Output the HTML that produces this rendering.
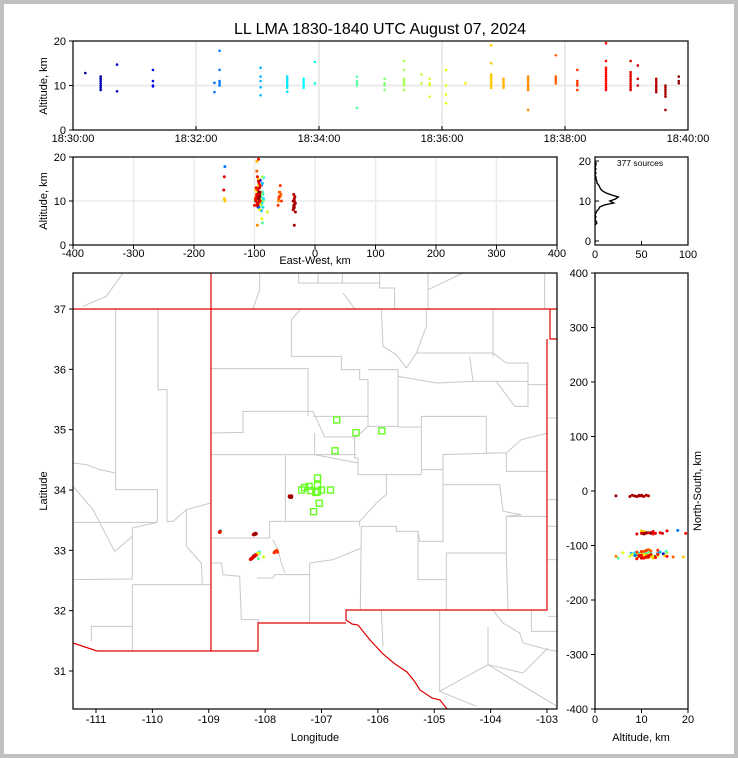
<!DOCTYPE html>
<html><head><meta charset="utf-8"><style>
html,body{margin:0;padding:0;background:#fff}
#wrap{width:738px;height:758px;position:relative;box-sizing:border-box;border:4px solid #c0c0c0;background:#fff}
svg{position:absolute;left:-4px;top:-4px}
text{font-family:"Liberation Sans",sans-serif;font-size:11px;fill:#000}
</style></head><body>
<div id="wrap">
<svg id="fig" width="738" height="758" viewBox="0 0 738 758">
<text x="380" y="34" text-anchor="middle" style="font-size:16px">LL LMA 1830-1840 UTC August 07, 2024</text>
<g id="mapbase">
<g transform="translate(73,273) scale(0.33333)" fill="none" stroke="#c8c8c8" stroke-width="3">
<polyline points="128,108 128,650 253,650 253,748 0,748"/>
<polyline points="255,108 255,350 282,350 282,745 300,745 340,710 413,690"/>
<polyline points="0,920 178,918 178,765 253,748"/>
<polyline points="178,935 413,935"/>
<polyline points="340,710 340,820 385,870 388,935"/>
<polyline points="0,570 40,575 80,590 128,600"/>
<polyline points="0,640 60,710 125,835 178,790"/>
<polyline points="178,935 178,1133"/>
<polyline points="55,1105 55,1060 178,1060"/>
<polyline points="30,100 100,70 150,0"/>
<polyline points="540,107 560,50 560,0"/>
<polyline points="677,0 677,30 920,30 920,45 965,45 965,107"/>
<polyline points="735,0 735,30"/><polyline points="808,0 808,30"/><polyline points="920,0 920,30"/>
<polyline points="810,60 845,107"/><polyline points="1065,0 1065,107"/><polyline points="1065,50 1170,0"/><polyline points="1415,0 1415,107"/>
<polyline points="415,287 705,287 705,430"/>
<polyline points="685,107 655,140 655,250 805,250 805,290 860,290 860,320 885,320 885,460"/>
<polyline points="925,107 930,220 970,245 1000,285 1030,240 1060,160 1060,107"/>
<polyline points="885,290 975,290 975,460 885,460"/>
<polyline points="975,310 1090,330 1200,325 1365,325 1365,270 1300,270 1260,240 1030,240"/>
<polyline points="1260,107 1260,250"/><polyline points="1190,250 1200,325"/>
<polyline points="1270,325 1325,400 1365,400 1365,325"/><polyline points="1365,335 1425,335"/>
<polyline points="415,480 510,478 510,415 720,415 755,492 850,492 885,460"/>
<polyline points="720,430 885,430"/>
<polyline points="725,480 725,545 855,570"/>
<polyline points="845,492 845,555 855,555 855,605 1045,605 1045,430 1240,430 1240,540 1300,540 1300,595 1425,595"/>
<polyline points="975,462 1045,462"/>
<polyline points="415,545 850,545"/>
<polyline points="637,545 637,745 590,745 590,795 415,795"/>
<polyline points="637,745 860,745 860,760"/>
<polyline points="860,745 915,685 940,665 940,605"/>
<polyline points="1045,590 1110,590 1110,545 1270,540"/>
<polyline points="1300,540 1345,500 1425,480"/>
<polyline points="1110,545 1110,805 1040,805 1035,775 970,775 970,760 865,760"/>
<polyline points="1110,635 1280,635 1290,715 1345,725 1300,730 1300,840 1120,840 1120,1012"/>
<polyline points="1300,730 1425,730"/><polyline points="1035,775 1035,920 1120,920"/>
<polyline points="1300,840 1305,1012"/><polyline points="865,760 862,1012"/>
<polyline points="865,825 780,860 710,870 710,1050"/>
<polyline points="415,870 445,870 450,905 500,910 505,1040 556,1040 556,1050"/>
<polyline points="552,915 600,915 605,905 710,905"/>
<polyline points="600,800 615,830 625,870 635,900"/>
<polyline points="1260,1012 1290,1050 1340,1080 1350,1110 1425,1130 1452,1135"/>
<polyline points="1245,1060 1245,1175 1100,1255 1100,1012"/>
<polyline points="1245,1175 1452,1300"/><polyline points="1425,1125 1350,1200 1245,1175"/>
<polyline points="1375,1012 1375,1075 1452,1075"/><polyline points="925,1012 930,1120"/>
<polyline points="1100,1255 1210,1300"/>
<polyline points="1425,435 1452,435"/><polyline points="1425,680 1452,680"/><polyline points="1425,760 1452,760"/><polyline points="1425,860 1452,860"/><polyline points="1425,1030 1452,1030"/>
</g>
<g fill="none" stroke="#e00000" stroke-width="1.2">
<polyline points="73,309 557,309"/>
<polyline points="211,273 211,651"/>
<polyline points="550,309 550,339 557,339"/>
<polyline points="547,339 547,610 346,610 346,620 352,624 358,625 370,640 383,654 395,664 407,672 415,682 420,690 432,698 440,700 447,709"/>
<polyline points="346,623 258,623 258,651 97,651 73,643"/>
</g>
</g>
<g id="layer"></g>
</svg>
</div>
<script>
const times=[12,27,27,27,27,27,27,27,43,43,78,78,78,78,138,138,143,143,143,143,143,183,183,183,183,183,209,209,209,209,209,209,209,225,225,225,225,225,236,236,277,277,277,277,277,304,304,304,304,323,323,323,323,323,323,323,340,340,348,348,348,348,364,364,364,364,383,408,408,408,408,408,408,408,408,408,420,420,420,420,420,444,444,444,444,444,444,444,444,471,471,471,471,471,492,492,492,492,492,520,520,520,520,520,520,520,520,520,520,520,520,520,544,544,544,544,544,544,544,544,544,544,551,551,551,569,569,569,569,569,569,569,578,578,578,578,578,578,578,591,591,591];
const alts=[12.8,12,11.5,11,10.5,10,9.5,9,14.7,8.7,13.5,11,10,9.8,10.6,8.5,17.8,13.5,11,10.5,10,14,12,11,9.6,7.8,12,11.5,11,10.5,10,9.5,8.6,11.5,11,10.5,10,9.5,15.3,10.5,12,11,10.5,10,5,11.5,10.5,10,9,15.5,13.5,11.5,11,10.5,10,9,12.5,10.5,11.5,10.5,10,7.5,13.5,10,8,6,10.5,19,15,12.5,12,11.5,11,10.5,10,9.5,11.5,11,10.5,10,9.5,12,11.5,11,10.5,10,9.5,9,4.5,16.8,12,11.5,11,10.5,13.5,11,10.5,10,9,19.5,15.5,14,13.5,13,12.5,12,11.5,11,10.5,10,9.5,9,15.5,13,12.5,12,11.5,11,10.5,10,9.5,9,14.5,11.5,10,11.5,11,10.5,10,9.5,9,8.5,10,9.5,9,8.5,8,7.5,4.5,12,11,10.5];
const lons=[-108.21,-108.19,-108.2,-108.22,-108.18,-108.21,-108.17,-108.2,-108.16,-108.2,-108.14,-108.19,-108.21,-108.17,-108.13,-108.18,-108.79,-108.15,-108.2,-108.12,-108.18,-108.12,-108.13,-108.16,-108.19,-108.14,-108.12,-108.14,-108.16,-108.1,-108.18,-108.13,-108.11,-108.11,-108.15,-108.13,-108.12,-108.17,-108.1,-108.13,-108.12,-108.16,-108.21,-108.24,-108.12,-108.13,-108.18,-108.1,-108.22,-108.12,-108.15,-108.19,-108.22,-108.17,-108.25,-108.14,-108.2,-108.16,-108.18,-108.23,-108.15,-108.03,-108.19,-108.21,-108.17,-108.13,-108.2,-108.22,-108.19,-108.24,-108.2,-108.18,-108.22,-108.8,-108.79,-108.21,-108.23,-108.19,-108.25,-108.21,-108.17,-107.82,-108.22,-107.8,-108.24,-107.83,-108.2,-108.26,-108.21,-108.22,-107.81,-107.79,-108.23,-107.83,-107.8,-107.82,-108.24,-107.78,-107.84,-108.19,-108.21,-108.18,-108.16,-108.23,-108.2,-108.17,-108.22,-108.19,-108.24,-108.18,-108.21,-108.26,-108.8,-108.17,-108.81,-108.16,-108.19,-108.22,-108.18,-108.24,-108.2,-108.21,-108.19,-108.17,-108.16,-107.56,-107.54,-107.55,-107.57,-107.53,-107.55,-107.56,-107.55,-107.54,-107.56,-107.55,-107.57,-107.53,-107.55,-108.18,-108.17,-108.19];
const lats=[32.89,32.9,32.91,32.88,32.92,32.89,32.93,32.9,32.93,32.9,32.94,32.9,32.89,32.92,32.95,32.91,33.32,32.93,32.9,32.95,32.91,32.96,32.94,32.93,32.9,32.94,32.95,32.93,32.92,32.96,32.91,32.94,32.95,32.95,32.93,32.94,32.96,32.92,32.97,32.94,32.95,32.92,32.88,32.86,32.86,32.94,32.91,32.96,32.88,32.95,32.93,32.9,32.88,32.92,32.86,32.94,32.9,32.92,32.91,32.87,32.93,32.89,32.9,32.89,32.92,32.95,32.9,32.88,32.9,32.86,32.89,32.9,32.88,33.3,33.31,32.89,32.87,32.91,32.86,32.89,32.92,32.98,32.88,32.99,32.86,32.97,32.9,32.85,32.89,32.88,32.98,33.0,32.87,32.97,32.99,32.98,32.87,32.97,32.96,33.27,32.89,33.28,32.92,32.87,33.26,32.92,32.88,33.27,32.86,32.91,32.89,32.85,33.31,33.27,33.3,33.28,32.9,32.88,33.27,32.86,32.9,33.26,33.27,33.28,33.27,33.89,33.9,33.88,33.89,33.9,33.88,33.89,33.9,33.89,33.88,33.89,33.9,33.88,33.89,33.27,33.28,33.26];
const histAlt=[4,4.5,5,5.5,6,6.5,7,7.5,8,8.5,9,9.5,10,10.5,11,11.5,12,12.5,13,13.5,14,14.5,15,15.5,16,16.5,17,17.5,18,18.5,19,19.5,20];
const histCount=[0,2,1,0,1,0,1,2,4,5,10,20,16,22,25,18,12,8,6,5,4,2,2,1,1,0,1,0,1,0,1,1,0];
const stnLon=[-106.73,-106.39,-105.93,-106.76,-107.07,-107.07,-107.07,-107.3,-107.19,-107.35,-106.84,-107.0,-107.1,-107.04,-107.14,-107.22];
const stnLat=[35.16,34.95,34.98,34.65,34.2,34.08,33.97,34.04,33.99,34.0,34.0,34.0,33.96,33.78,33.64,34.06];
const tLabels=["18:30:00","18:32:00","18:34:00","18:36:00","18:38:00","18:40:00"];
const altTicks=[0,10,20];
const ewTicks=[-400,-300,-200,-100,0,100,200,300,400];
const nsTicks=[-400,-300,-200,-100,0,100,200,300,400];
const lonTicks=[-111,-110,-109,-108,-107,-106,-105,-104,-103];
const latTicks=[31,32,33,34,35,36,37];
const histTicks=[0,50,100];
const altTicks2=[0,10,20];
const LAT0=33.97, LON0=-107.18;

const NS='http://www.w3.org/2000/svg';
const L=document.getElementById('layer');
function mk(tag,at,parent){const e=document.createElementNS(NS,tag);for(const k in at)e.setAttribute(k,at[k]);(parent||L).appendChild(e);return e;}
function txt(x,y,s,anchor,extra){const e=mk('text',Object.assign({x:x,y:y,'text-anchor':anchor||'middle'},extra||{}));e.textContent=s;return e;}
function jet(v){const c=u=>Math.max(0,Math.min(1,u));const r=c(1.5-Math.abs(4*v-3)),g=c(1.5-Math.abs(4*v-2)),b=c(1.5-Math.abs(4*v-1));return 'rgb('+Math.round(r*255)+','+Math.round(g*255)+','+Math.round(b*255)+')';}
const xT=t=>73+t*615/600, yA1=a=>130-a*4.45;
const xEW=e=>73+(e+400)*484/800, yA2=a=>245-a*4.4;
const xH=c=>595+c*0.93, yH=a=>241-a*4;
const xLon=l=>96+(l+111)*56.375, yLat=l=>309+(37-l)*60.33;
const yNS=n=>491-n*0.545, xA=a=>595+a*4.65;
const ewOf=lon=>(lon-LON0)*92.5, nsOf=lat=>(lat-LAT0)*111;

[2,4,6,8].forEach(i=>{const g=mk('line',{x1:xT(i*60),x2:xT(i*60),y1:41,y2:130,stroke:'#ebebeb','stroke-width':2});});
let g1=mk('line',{x1:73,x2:688,y1:yA1(10),y2:yA1(10),stroke:'#ebebeb','stroke-width':2});


ewTicks.forEach(v=>{const g=mk('line',{x1:xEW(v),x2:xEW(v),y1:157,y2:245,stroke:'#ebebeb','stroke-width':1.5});});
let g2=mk('line',{x1:73,x2:557,y1:yA2(10),y2:yA2(10),stroke:'#ebebeb','stroke-width':1.5});



stnLon.forEach((lo,i)=>{const r=mk('rect',{x:xLon(lo)-3,y:yLat(stnLat[i])-3,width:6,height:6,fill:'none',stroke:'#66ff22','stroke-width':1.4});});

times.forEach((t,i)=>{
  const col=jet(t/600), a=alts[i];
  const e=ewOf(lons[i]), n=nsOf(lats[i]);
  const p1=mk('circle',{cx:xT(t),cy:yA1(a),r:1.3,fill:col});
  
  
  const p2=mk('circle',{cx:xEW(e),cy:yA2(a),r:1.5,fill:col});
  
  
  const p3=mk('circle',{cx:xLon(lons[i]),cy:yLat(lats[i]),r:1.6,fill:col});
  
  
  const p4=mk('circle',{cx:xA(a),cy:yNS(n),r:1.5,fill:col});
  
  
});

const hp=mk('polyline',{points:histAlt.map((a,i)=>xH(histCount[i])+','+yH(a)).join(' '),fill:'none',stroke:'#000','stroke-width':1.4});


const st=txt(640,166,'377 sources','middle',{style:'font-size:8.5px'});



[[73,41,615,89,'time-altitude-panel'],[73,157,484,88,'ew-altitude-panel'],[595,157,93,88,'histogram-panel'],[73,273,484,436,'map-panel'],[595,273,93,436,'ns-altitude-panel']].forEach(f=>{
  const r=mk('rect',{x:f[0],y:f[1],width:f[2],height:f[3],fill:'none',stroke:'#000','stroke-width':1.2});
  
  
});
function tick(x1,y1,x2,y2){const t=mk('line',{x1:x1,y1:y1,x2:x2,y2:y2,stroke:'#000','stroke-width':1});}
function lab(x,y,s,anc,nm,extra){const t=txt(x,y,s,anc,extra);return t;}
tLabels.forEach((s,i)=>{const x=xT(i*120);tick(x,130,x,126);lab(x,142,s,'middle','time-tick-label');});
altTicks.forEach(v=>{tick(73,yA1(v),69,yA1(v));lab(66,yA1(v)+4,String(v),'end','alt-tick-label');});
lab(47,86,'Altitude, km','middle','y-axis-title-top',{transform:'rotate(-90 47 86)'});
ewTicks.forEach(v=>{tick(xEW(v),245,xEW(v),249);lab(xEW(v),257,String(v),'middle','ew-tick-label');});
altTicks.forEach(v=>{tick(73,yA2(v),69,yA2(v));lab(66,yA2(v)+4,String(v),'end','alt-tick-label');});
lab(47,201,'Altitude, km','middle','y-axis-title-ew',{transform:'rotate(-90 47 201)'});
lab(315,264,'East-West, km','middle','x-axis-title-ew');
histTicks.forEach(v=>{tick(xH(v),245,xH(v),241);lab(xH(v),258,String(v),'middle','hist-tick-label');});
altTicks2.forEach(v=>{tick(595,yH(v),599,yH(v));lab(591,yH(v)+4,String(v),'end','hist-alt-tick-label');});
lonTicks.forEach(v=>{tick(xLon(v),709,xLon(v),713);lab(xLon(v),723,String(v),'middle','lon-tick-label');});
latTicks.forEach(v=>{tick(73,yLat(v),69,yLat(v));lab(66,yLat(v)+4,String(v),'end','lat-tick-label');});
lab(315,741,'Longitude','middle','x-axis-title-map');
lab(47,491,'Latitude','middle','y-axis-title-map',{transform:'rotate(-90 47 491)'});
nsTicks.forEach(v=>{tick(595,yNS(v),591,yNS(v));lab(588,yNS(v)+4,String(v),'end','ns-tick-label');});
[0,10,20].forEach(v=>{tick(xA(v),709,xA(v),713);lab(xA(v),723,String(v),'middle','ns-alt-tick-label');});
lab(641,741,'Altitude, km','middle','x-axis-title-ns');
lab(701,491,'North-South, km','middle','y-axis-title-ns',{transform:'rotate(-90 701 491)'});
</script>
</body></html>
